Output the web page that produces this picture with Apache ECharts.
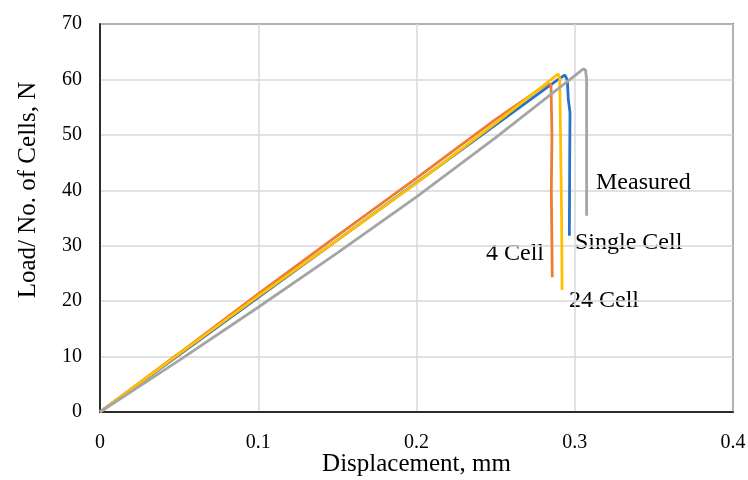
<!DOCTYPE html>
<html><head><meta charset="utf-8">
<script src="https://cdn.jsdelivr.net/npm/echarts@6/dist/echarts.min.js"></script>
<style>html,body{margin:0;padding:0;background:#fff}#c{width:748px;height:480px}</style>
</head><body><div id="c"></div>
<script>
// Displacement (mm) and Load/No. of Cells (N) per series
const singleX = [0, 0.05, 0.10, 0.15, 0.20, 0.25, 0.290, 0.2938, 0.2953, 0.2959, 0.2970, 0.2968, 0.2966];
const singleY = [0, 10.3, 20.7, 31.0, 41.4, 51.8, 60.1, 60.8, 59.9, 56.5, 54.0, 45.0, 31.8];
const fourX   = [0, 0.05, 0.10, 0.15, 0.20, 0.25, 0.2831, 0.2850, 0.2856, 0.2852, 0.2858];
const fourY   = [0, 10.6, 21.3, 31.8, 42.2, 52.8, 59.3, 59.0, 50.0, 40.0, 24.3];
const c24X    = [0, 0.05, 0.10, 0.15, 0.20, 0.25, 0.2896, 0.2905, 0.2910, 0.2917, 0.2920];
const c24Y    = [0, 10.5, 20.9, 31.0, 41.3, 52.1, 61.0, 60.2, 50.0, 35.0, 22.0];
const measX   = [0, 0.05, 0.10, 0.15, 0.20, 0.25, 0.3055, 0.3068, 0.3075, 0.3075];
const measY   = [0, 9.3, 18.9, 28.7, 38.8, 49.5, 61.9, 61.7, 60.0, 35.4];
const seriesNames = ['Single Cell', '4 Cell', '24 Cell', 'Measured'];
const xTicks = [0, 0.1, 0.2, 0.3, 0.4];
const yTicks = [0, 10, 20, 30, 40, 50, 60, 70];

const zip = (xs, ys) => xs.map((x, i) => [x, ys[i]]);
const colors = ['#2672C6', '#ED7D31', '#FFC000', '#A5A5A5'];
const datasets = [zip(singleX, singleY), zip(fourX, fourY), zip(c24X, c24Y), zip(measX, measY)];
const font = 'Liberation Serif, Times New Roman, serif';

const chart = echarts.init(document.getElementById('c'), null, {renderer: 'canvas'});
chart.setOption({
  animation: false,
  backgroundColor: '#fff',
  grid: {left: 100, right: 15, top: 24, bottom: 68, containLabel: false, outerBoundsMode: 'none',
         show: true, borderColor: '#000', borderWidth: 1.5, backgroundColor: 'transparent'},
  xAxis: {
    type: 'value', min: xTicks[0], max: xTicks[xTicks.length - 1], interval: 0.1,
    name: 'Displacement, mm', nameLocation: 'middle', nameGap: 40, nameMoveOverlap: false,
    nameTextStyle: {fontFamily: font, fontSize: 25, color: '#000'},
    axisLine: {show: true, lineStyle: {color: '#000', width: 1.5}},
    axisTick: {show: false},
    axisLabel: {fontFamily: font, fontSize: 20, color: '#000', margin: 21, formatter: v => String(v)},
    splitLine: {show: true, lineStyle: {color: '#D9D9D9', width: 1.5}}
  },
  yAxis: {
    type: 'value', min: yTicks[0], max: yTicks[yTicks.length - 1], interval: 10,
    axisLine: {show: true, lineStyle: {color: '#000', width: 1.5}},
    axisTick: {show: false},
    axisLabel: {fontFamily: font, fontSize: 20, color: '#000', margin: 18},
    splitLine: {show: true, lineStyle: {color: '#D9D9D9', width: 1.5}}
  },
  series: datasets.map((d, i) => ({
    name: seriesNames[i], type: 'line', data: d, showSymbol: false, symbol: 'none',
    lineStyle: {color: colors[i], width: 2.8}, z: 2 + i
  })),
  graphic: [
    {type: 'text', x: 28, y: 190, rotation: Math.PI / 2,
     style: {text: 'Load/ No. of Cells, N', font: '25px ' + font, fill: '#000', align: 'center', verticalAlign: 'middle'}},
    {type: 'text', x: 596, y: 183, style: {text: 'Measured', font: '24px ' + font, fill: '#000', align: 'left', verticalAlign: 'middle'}},
    {type: 'text', x: 575, y: 243, style: {text: 'Single Cell', font: '24px ' + font, fill: '#000', align: 'left', verticalAlign: 'middle'}},
    {type: 'text', x: 486, y: 254, style: {text: '4 Cell', font: '24px ' + font, fill: '#000', align: 'left', verticalAlign: 'middle'}},
    {type: 'text', x: 569, y: 301, style: {text: '24 Cell', font: '24px ' + font, fill: '#000', align: 'left', verticalAlign: 'middle'}}
  ]
});
</script></body></html>
